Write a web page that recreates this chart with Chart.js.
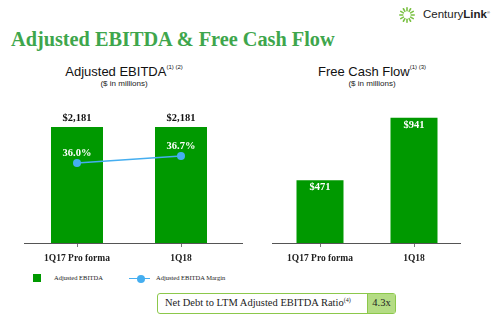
<!DOCTYPE html>
<html><head><meta charset="utf-8">
<script src="https://cdn.jsdelivr.net/npm/chart.js@4/dist/chart.umd.min.js"></script>
<style>
html,body{margin:0;padding:0;background:#fff;}
body{width:500px;height:329px;position:relative;overflow:hidden;font-family:"Liberation Sans",Arial,sans-serif;}
.abs{position:absolute;}
#title{left:11px;top:28px;font-family:"Liberation Serif","Times New Roman",serif;font-weight:bold;font-size:20.3px;color:#3ea64c;white-space:nowrap;}
.sub{font-size:13px;color:#111;text-align:center;white-space:nowrap;}
.sub sup{font-size:6px;vertical-align:7px;}
.sub2{font-size:8px;color:#222;text-align:center;white-space:nowrap;}
#logoText{left:423px;top:8px;font-size:11.5px;color:#222;white-space:nowrap;}
.leg{font-family:"Liberation Serif",serif;font-size:6.5px;color:#222;white-space:nowrap;}
#box{left:157px;top:293px;width:239px;height:21px;border:1.5px solid #8cc84b;border-radius:3px;box-sizing:border-box;display:flex;font-family:"Liberation Serif",serif;font-size:10.5px;color:#222;}
#box .l{flex:0 0 202px;padding-left:7px;line-height:18px;white-space:nowrap;}
#box .l sup{font-size:6px;vertical-align:4px;line-height:0;}
#box .r{flex:1;background:#b4dc84;border-left:1.5px solid #8cc84b;text-align:center;line-height:18px;}
</style></head>
<body>
<svg class="abs" style="left:399px;top:5px" width="16" height="20" viewBox="0 0 16 20">
  <g stroke="#7ac143" stroke-width="1.6" stroke-linecap="round" id="sun"></g>
</svg>
<div id="logoText" class="abs">Century<b>Link</b><span style="font-size:4px;vertical-align:4px">®</span></div>
<div id="title" class="abs">Adjusted EBITDA &amp; Free Cash Flow</div>

<div class="abs sub" style="left:24px;width:200px;top:64px;">Adjusted EBITDA<sup>(1) (2)</sup></div>
<div class="abs sub2" style="left:24px;width:200px;top:79px;">($ in millions)</div>
<div class="abs sub" style="left:272px;width:200px;top:64px;">Free Cash Flow<sup>(1) (3)</sup></div>
<div class="abs sub2" style="left:272px;width:200px;top:79px;">($ in millions)</div>

<div class="abs" style="left:0;top:100px;width:250px;height:170px;"><canvas id="c1" width="250" height="170"></canvas></div>
<div class="abs" style="left:250px;top:100px;width:250px;height:170px;"><canvas id="c2" width="250" height="170"></canvas></div>

<div class="abs" style="left:33px;top:274px;width:8px;height:8px;background:#009900;"></div>
<div class="abs leg" style="left:54px;top:274px;">Adjusted EBITDA</div>
<div class="abs" style="left:129px;top:277.5px;width:21px;height:1.5px;background:#45aef0;"></div>
<div class="abs" style="left:136.5px;top:274.5px;width:8px;height:8px;border-radius:50%;background:#45aef0;"></div>
<div class="abs leg" style="left:156px;top:274px;">Adjusted EBITDA Margin</div>

<div id="box" class="abs"><div class="l">Net Debt to LTM Adjusted EBITDA Ratio<sup>(4)</sup></div><div class="r" id="ratio"></div></div>

<script>
// ---- data ----
const categories = ["1Q17 Pro forma", "1Q18"];
const ebitdaValues = [2181, 2181];
const ebitdaLabels = ["$2,181", "$2,181"];
const marginValues = [36.0, 36.7];
const marginLabels = ["36.0%", "36.7%"];
const fcfValues = [471, 941];
const fcfLabels = ["$471", "$941"];
const ratioText = "4.3x";

document.getElementById('ratio').textContent = ratioText;

// logo sunburst (decorative)
(function(){
  const g = document.getElementById('sun');
  const cx=8, cy=10;
  for (let i=0;i<12;i++){
    const a = i*Math.PI/6;
    const r1=4.2, r2=7.2;
    const l=document.createElementNS('http://www.w3.org/2000/svg','line');
    l.setAttribute('x1',cx+r1*Math.cos(a)); l.setAttribute('y1',cy+r1*Math.sin(a));
    l.setAttribute('x2',cx+r2*Math.cos(a)); l.setAttribute('y2',cy+r2*Math.sin(a));
    g.appendChild(l);
  }
})();

const GREEN = '#009900';
const BLUE = '#45aef0';
const serif = '"Liberation Serif","Times New Roman",serif';

const labelPlugin = {
  id: 'valueLabels',
  afterDatasetsDraw(chart) {
    const ctx = chart.ctx;
    chart.data.datasets.forEach((ds, di) => {
      const meta = chart.getDatasetMeta(di);
      if (!ds.valueLabels) return;
      meta.data.forEach((el, i) => {
        ctx.save();
        ctx.font = 'bold 10.5px ' + serif;
        ctx.fillStyle = ds.labelColor;
        ctx.textAlign = 'center';
        ctx.textBaseline = 'middle';
        ctx.fillText(ds.valueLabels[i], el.x, el.y + ds.labelOffset);
        ctx.restore();
      });
    });
  }
};

const axisExtend = {
  id: 'axisExtend',
  afterDraw(chart, args, opts) {
    const a = chart.chartArea, ctx = chart.ctx;
    ctx.save();
    ctx.strokeStyle = '#555';
    ctx.lineWidth = 1;
    ctx.beginPath();
    ctx.moveTo(a.left - 1, a.bottom + 0.5);
    ctx.lineTo(a.right + (opts.extra || 0), a.bottom + 0.5);
    ctx.stroke();
    ctx.restore();
  }
};

function xScale() {
  return {
    type: 'category',
    offset: true,
    border: { display: false },
    grid: { display: true, drawOnChartArea: false, drawTicks: true, tickLength: 4, color: '#777', offset: false },
    ticks: { color: '#222', font: { family: serif, size: 9.5, weight: 'bold' }, padding: 6, maxRotation: 0 },
    afterFit: s => { s.height = 27; }
  };
}

new Chart(document.getElementById('c1'), {
  data: {
    labels: categories,
    datasets: [
      { type: 'line', label: 'Adjusted EBITDA Margin', data: marginValues, yAxisID: 'y2',
        borderColor: BLUE, backgroundColor: BLUE, borderWidth: 1.5, pointRadius: 4, pointBackgroundColor: BLUE,
        pointBorderWidth: 0, valueLabels: marginLabels, labelColor: '#ffffff', labelOffset: -10, order: 0 },
      { type: 'bar', label: 'Adjusted EBITDA', data: ebitdaValues, yAxisID: 'y',
        backgroundColor: GREEN, barPercentage: 0.5, categoryPercentage: 1,
        valueLabels: ebitdaLabels, labelColor: '#111111', labelOffset: -9, order: 1 }
    ]
  },
  options: {
    responsive: false, animation: false,
    layout: { padding: { left: 25, right: 17, top: 10, bottom: 0 } },
    plugins: { legend: { display: false }, tooltip: { enabled: false }, axisExtend: { extra: 10 } },
    scales: {
      x: xScale(),
      y: { display: false, min: 0, max: 2500 },
      y2: { display: false, min: 28, max: 41.3 }
    }
  },
  plugins: [labelPlugin, axisExtend]
});

new Chart(document.getElementById('c2'), {
  type: 'bar',
  data: {
    labels: categories,
    datasets: [
      { label: 'Free Cash Flow', data: fcfValues, backgroundColor: GREEN,
        barPercentage: 0.5, categoryPercentage: 1,
        valueLabels: fcfLabels, labelColor: '#ffffff', labelOffset: 7 }
    ]
  },
  options: {
    responsive: false, animation: false,
    layout: { padding: { left: 23, right: 39, top: 10, bottom: 0 } },
    plugins: { legend: { display: false }, tooltip: { enabled: false }, axisExtend: { extra: 0 } },
    scales: {
      x: xScale(),
      y: { display: false, min: 0, max: 1000 }
    }
  },
  plugins: [labelPlugin, axisExtend]
});
</script>
</body></html>
